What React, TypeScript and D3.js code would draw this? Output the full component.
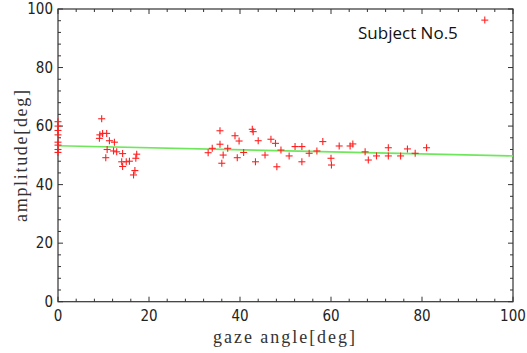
import React from 'react';
import * as d3 from 'd3';

// gaze angle [deg] / amplitude [deg]
const gazeAngles = [
  0, 0, 0, 0, 0, 0, 0, 0,
  9.6, 9.2, 9.8, 10.7, 9.1, 11.3, 12.4, 10.8, 12.2, 12.9, 10.5, 14.2, 14, 15, 14.2, 15.7, 17.3, 17.1, 16.9, 16.6,
  35.6, 38.9, 39.8, 42.7, 42.9, 44, 46.8, 47.8, 49, 35.6, 33.9, 37.3, 33, 36.3, 40.8, 39.4, 36, 43.4, 45.5, 48.1,
  50.8, 52.1, 53.6, 53.6, 55.2, 56.9, 58.2, 60, 60.1, 61.8, 64.2, 64.8, 67.5, 68.2, 70, 72.6, 72.6, 75.3, 76.8, 78.5, 81,
  93.8,
];
const amplitudes = [
  61.5, 60, 58.5, 57, 54.5, 53.5, 52, 51,
  62.5, 57, 57.5, 57.5, 55.8, 55, 54.5, 52, 51.5, 51.2, 49.2, 50.6, 47.8, 47.8, 46.2, 48, 50.4, 49, 44.8, 43.3,
  58.4, 56.7, 54.9, 58.9, 58.1, 55, 55.5, 54.1, 51.8, 53.8, 52.4, 52.4, 50.9, 50.1, 51, 49.2, 47.3, 47.8, 50.1, 46.1,
  49.8, 53, 53, 47.8, 50.7, 51.5, 54.7, 49, 46.7, 53.2, 53.2, 53.9, 51.2, 48.4, 49.8, 52.6, 49.8, 49.8, 52.2, 50.7, 52.6,
  96.2,
];
// fitted line end points
const fitX = [0, 100];
const fitY = [53.3, 49.8];

const majorTicks = [0, 20, 40, 60, 80, 100];
const minorTicks = d3.range(0, 101, 4);

const subjectLabel = 'Subject No.5';
const xTitle = 'gaze angle[deg]';
const yTitle = 'amplitude[deg]';

const W = 527, H = 353;
const L = 58, R = 513, T = 9, B = 301.7;

export default function App() {
  const x = d3.scaleLinear().domain([0, 100]).range([L, R]);
  const y = d3.scaleLinear().domain([0, 100]).range([B, T]);
  const axisColor = '#333';
  const tickFont = '"Liberation Sans Narrow", "DejaVu Sans Condensed", sans-serif';
  const titleFont = '"Liberation Serif", "DejaVu Serif", serif';
  const fitLine = d3.line<number>().x((d) => x(d)).y((_, i) => y(fitY[i]));
  const s = 3.5;

  return (
    <svg width={W} height={H} style={{ position: 'absolute', left: 0, top: 0, background: '#fff' }}>
      {/* frame */}
      <rect x={L} y={T} width={R - L} height={B - T} fill="none" stroke={axisColor} strokeWidth={1.2} />
      {/* ticks on all four sides, pointing in */}
      {minorTicks.map((t) => {
        const len = t % 20 === 0 ? 5 : 3;
        return (
          <g key={t} stroke={axisColor} strokeWidth={1}>
            <line x1={x(t)} x2={x(t)} y1={B} y2={B - len} />
            <line x1={x(t)} x2={x(t)} y1={T} y2={T + len} />
            <line x1={L} x2={L + len} y1={y(t)} y2={y(t)} />
            <line x1={R} x2={R - len} y1={y(t)} y2={y(t)} />
          </g>
        );
      })}
      {majorTicks.map((t) => (
        <g key={t} fontFamily={tickFont} fontSize={15} fill="#222">
          <text x={x(t)} y={321} textAnchor="middle">{t}</text>
          <text x={L - 5} y={y(t) + 5} textAnchor="end">{t}</text>
        </g>
      ))}
      {/* regression line */}
      <path d={fitLine(fitX) || ''} fill="none" stroke="#6ee85a" strokeWidth={1.6} />
      {/* data crosses */}
      <g stroke="#ff2020" strokeWidth={1.1}>
        {gazeAngles.map((g, i) => (
          <g key={i}>
            <line x1={x(g) - s} x2={x(g) + s} y1={y(amplitudes[i])} y2={y(amplitudes[i])} />
            <line x1={x(g)} x2={x(g)} y1={y(amplitudes[i]) - s} y2={y(amplitudes[i]) + s} />
          </g>
        ))}
      </g>
      <text x={358} y={39} fontFamily='"Open Sans", sans-serif' fontSize={17} fill="#111">{subjectLabel}</text>
      <text x={213} y={343} textLength={142} lengthAdjust="spacing" fontFamily={titleFont} fontSize={18} fill="#333">{xTitle}</text>
      <text
        transform={`translate(27,222) rotate(-90)`}
        textLength={132}
        lengthAdjust="spacing"
        fontFamily={titleFont}
        fontSize={18}
        fill="#333"
      >
        {yTitle}
      </text>
    </svg>
  );
}
